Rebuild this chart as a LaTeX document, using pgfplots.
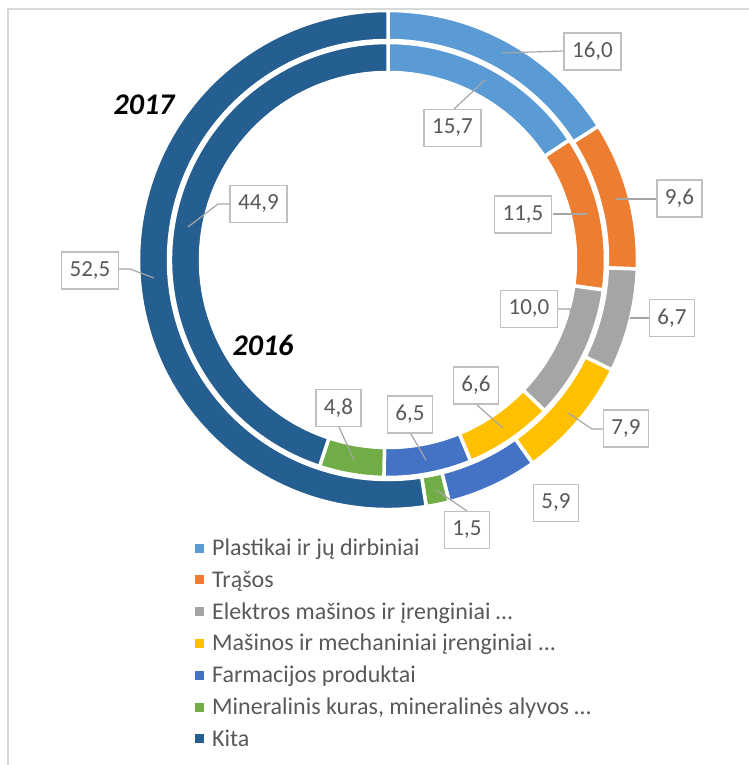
\documentclass[border=0pt]{standalone}
\usepackage{pgfplots}
\pgfplotsset{compat=1.18}
\usepackage{pgfplotstable}
\usepackage{fontspec}
\setmainfont{Carlito}
\definecolor{cA}{HTML}{5B9BD5}
\definecolor{cB}{HTML}{ED7D31}
\definecolor{cC}{HTML}{A5A5A5}
\definecolor{cD}{HTML}{FFC000}
\definecolor{cE}{HTML}{4472C4}
\definecolor{cF}{HTML}{70AD47}
\definecolor{cG}{HTML}{255E91}
\definecolor{lbl}{HTML}{595959}
\definecolor{boxc}{HTML}{BFBFBF}
\definecolor{lead}{HTML}{A6A6A6}
\definecolor{framec}{HTML}{D9D9D9}

\pgfplotstableread{
idx y2016 y2017
0 15.7 16.0
1 11.5 9.6
2 10.0 6.7
3 6.6 7.9
4 6.5 5.9
5 4.8 1.5
6 44.9 52.5
}\donut

% color, start, end, total, r outer, r inner (path radii, pixel units)
\newcommand\sector[6]{%
  \pgfmathsetmacro\secA{90-360*(#2/#4)}%
  \pgfmathsetmacro\secB{90-360*(#3/#4)}%
  \pgfmathsetmacro\secXa{388+#5*cos(\secA)}%
  \pgfmathsetmacro\secYa{260-#5*sin(\secA)}%
  \pgfmathsetmacro\secXb{388+#6*cos(\secB)}%
  \pgfmathsetmacro\secYb{260-#6*sin(\secB)}%
  \filldraw[fill=#1, draw=white, line width=3.5bp]
    (axis cs:\secXa,\secYa) arc[start angle=\secA, end angle=\secB, radius=#5 bp]
    -- (axis cs:\secXb,\secYb) arc[start angle=\secB, end angle=\secA, radius=#6 bp] -- cycle;
}

\tikzset{
  dl/.style={draw=boxc, line width=1.5bp, fill=white, text=lbl, inner xsep=8bp, inner ysep=0pt,
    minimum height=37bp, font=\fontsize{23bp}{27bp}\selectfont},
  ld/.style={draw=lead, line width=1.2bp},
}

\begin{document}
\begin{tikzpicture}
\gdef\cumO{0}\gdef\cumI{0}
\foreach \i in {0,...,6}{
  \pgfplotstablegetelem{\i}{y2017}\of\donut
  \pgfmathsetmacro\tmp{\cumO+\pgfplotsretval}
  \expandafter\xdef\csname oS\i\endcsname{\cumO}
  \xdef\cumO{\tmp}
  \expandafter\xdef\csname oE\i\endcsname{\cumO}
  \pgfplotstablegetelem{\i}{y2016}\of\donut
  \pgfmathsetmacro\tmp{\cumI+\pgfplotsretval}
  \expandafter\xdef\csname iS\i\endcsname{\cumI}
  \xdef\cumI{\tmp}
  \expandafter\xdef\csname iE\i\endcsname{\cumI}
}
\begin{axis}[scale only axis, width=749bp, height=765bp,
  xmin=0, xmax=749, ymin=0, ymax=765, y dir=reverse,
  hide axis, clip=false, disabledatascaling]
\pgfplotsextra{
  \foreach \i/\c in {0/cA,1/cB,2/cC,3/cD,4/cE,5/cF,6/cG}{
    \edef\st{\csname oS\i\endcsname}\edef\en{\csname oE\i\endcsname}
    \sector{\c}{\st}{\en}{\cumO}{249.5}{219.5}
    \edef\st{\csname iS\i\endcsname}\edef\en{\csname iE\i\endcsname}
    \sector{\c}{\st}{\en}{\cumI}{217.5}{187.5}
  }
}
% frame
\draw[framec, line width=2bp] (axis cs:8,765) -- (axis cs:8,9) -- (axis cs:749,9);
% leader lines
\draw[ld] (axis cs:502,53) -- (axis cs:563,51);
\draw[ld] (axis cs:485,80) -- (axis cs:454,109);
\draw[ld] (axis cs:616,199) -- (axis cs:656,199);
\draw[ld] (axis cs:553,214) -- (axis cs:587,214);
\draw[ld] (axis cs:558,309) -- (axis cs:570,309) -- (axis cs:571,317);
\draw[ld] (axis cs:630,318) -- (axis cs:649,318);
\draw[ld] (axis cs:568,413) -- (axis cs:592,429) -- (axis cs:603,429);
\draw[ld] (axis cs:477,405) -- (axis cs:503,428);
\draw[ld] (axis cs:411,434) -- (axis cs:426,460);
\draw[ld] (axis cs:436,490) -- (axis cs:467,511);
\draw[ld] (axis cs:339,427) -- (axis cs:354,460);
\draw[ld] (axis cs:230,204) -- (axis cs:218,204) -- (axis cs:188,227);
\draw[ld] (axis cs:119,269) -- (axis cs:130,269) -- (axis cs:154,278);
% data labels
\node[dl] at (axis cs:592.5,51.5) {16,0};
\node[dl] at (axis cs:452.5,128) {15,7};
\node[dl] at (axis cs:679.5,198.5) {9,6};
\node[dl] at (axis cs:523,214.5) {11,5};
\node[dl] at (axis cs:529,309) {10,0};
\node[dl] at (axis cs:672,318) {6,7};
\node[dl] at (axis cs:626,428.5) {7,9};
\node[dl] at (axis cs:476,385.5) {6,6};
\node[dl] at (axis cs:410,414.5) {6,5};
\node[dl] at (axis cs:338.5,408) {4,8};
\node[dl] at (axis cs:556,503) {5,9};
\node[dl] at (axis cs:467,530) {1,5};
\node[dl] at (axis cs:90,270.5) {52,5};
\node[dl] at (axis cs:258.5,204) {44,9};
% year labels
\node[font=\fontsize{30bp}{34bp}\selectfont\bfseries\itshape, text=black] at (axis cs:144,105) {2017};
\node[font=\fontsize{30bp}{34bp}\selectfont\bfseries\itshape, text=black] at (axis cs:263,345) {2016};
% legend
\pgfplotsextra{
\foreach \k/\c/\t in {0/cA/{Plastikai ir jų dirbiniai},1/cB/{Trąšos},2/cC/{Elektros mašinos ir įrenginiai …},
  3/cD/{Mašinos ir mechaniniai įrenginiai ...},4/cE/{Farmacijos produktai},
  5/cF/{Mineralinis kuras, mineralinės alyvos …},6/cG/{Kita}}{
  \pgfmathsetmacro\lgY{548+31.8*\k}
  \pgfmathsetmacro\lgA{\lgY-4.5}\pgfmathsetmacro\lgB{\lgY+4.5}\pgfmathsetmacro\lgC{\lgY+7.5}
  \fill[\c] (axis cs:195,\lgA) rectangle (axis cs:204,\lgB);
  \node[anchor=base west, inner sep=0pt, text=lbl, font=\fontsize{24bp}{28bp}\selectfont] at (axis cs:212,\lgC) {\t};
}
}
\end{axis}
\pgfresetboundingbox
\useasboundingbox (0,0) rectangle (749bp,765bp);
\end{tikzpicture}
\end{document}
